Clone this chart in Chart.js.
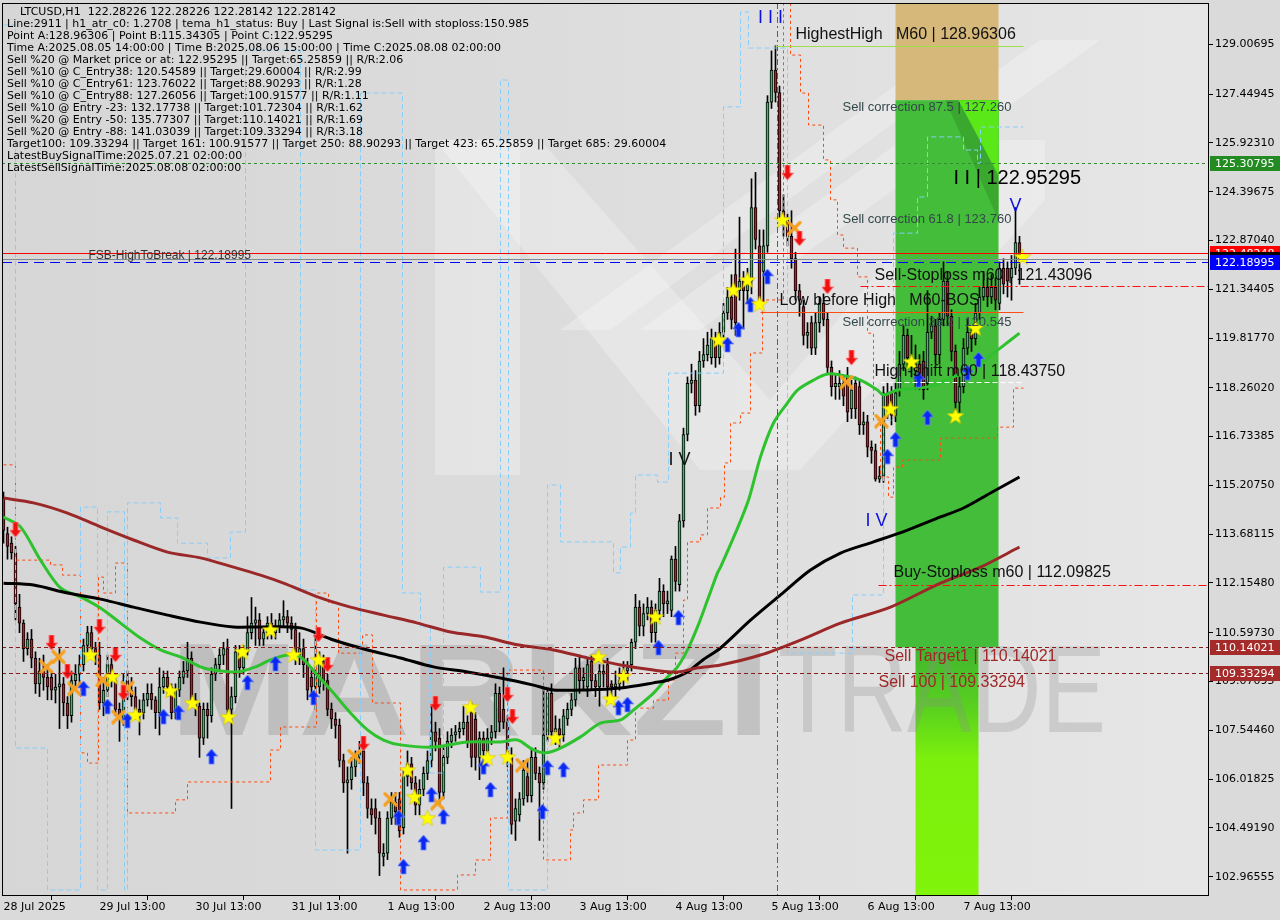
<!DOCTYPE html>
<html>
<head>
<meta charset="utf-8">
<script src="https://cdn.jsdelivr.net/npm/chart.js@4.4.1/dist/chart.umd.min.js"></script>
<style>
  html, body { margin: 0; padding: 0; background: #dadada; }
  #wrap { width: 1280px; height: 920px; }
</style>
</head>
<body>
<div id="wrap"><canvas id="chart" width="1280" height="920"></canvas></div>
<script>
// LTCUSD H1, one bar per hour from 28 Jul 2025 13:00 (index 0) to 8 Aug 2025 03:00 (index 254)
// each row: open, high, low, close
const candles = [
  [114.8,115.0,113.4,113.8],[113.7,113.9,112.9,113.3],[113.4,113.6,112.9,113.1],[113.1,113.3,111.0,111.5],
  [111.4,111.8,110.6,110.9],[110.9,111.0,109.7,110.1],[110.1,110.6,109.9,110.4],[110.4,110.7,109.5,109.8],
  [109.8,110.0,108.7,109.0],[109.0,109.8,108.6,109.4],[109.4,109.9,108.8,109.2],[109.2,109.6,108.5,108.9],
  [109.2,109.4,108.5,108.8],[108.8,109.3,108.4,108.9],[108.9,110.1,107.6,109.0],[109.0,109.2,108.0,108.4],
  [108.4,108.6,107.6,108.0],[108.0,109.4,107.8,109.1],[109.1,109.6,108.8,109.3],[109.3,109.9,109.0,109.6],
  [109.6,110.4,109.4,110.2],[110.2,110.8,110.0,110.6],[110.6,110.8,109.9,110.1],[110.1,110.3,109.6,109.9],
  [109.9,110.3,108.2,108.4],[108.4,109.2,108.0,108.8],[108.8,109.9,108.6,109.6],[109.6,109.8,108.9,109.1],
  [109.1,109.3,108.0,108.2],[108.2,108.4,107.2,107.9],[107.9,109.3,107.7,109.1],[109.1,109.4,108.5,108.8],
  [108.8,109.2,108.3,108.6],[108.6,108.9,107.9,108.2],[108.2,108.5,107.4,108.1],[108.1,108.7,107.9,108.5],
  [108.5,109.0,108.3,108.7],[108.7,109.0,108.2,108.5],[108.5,108.6,107.6,108.1],[108.1,109.5,107.4,108.9],
  [108.9,109.4,108.7,109.2],[109.2,109.4,108.6,108.9],[108.9,109.0,107.9,108.1],[108.1,109.0,107.9,108.8],
  [108.8,109.4,108.6,109.2],[109.2,109.7,109.0,109.4],[109.4,110.3,109.2,109.8],[109.8,110.0,108.3,108.5],
  [108.5,108.7,108.0,108.3],[108.3,108.4,106.7,107.3],[107.3,108.4,107.1,108.2],[108.2,108.4,107.3,108.0],
  [108.0,109.5,107.8,109.3],[109.3,109.8,109.1,109.6],[109.6,110.1,109.4,109.9],[109.9,110.3,109.6,110.1],
  [110.1,110.4,108.0,108.2],[108.2,108.9,105.1,108.6],[108.6,110.2,108.4,110.0],[110.0,110.2,109.2,109.5],
  [109.5,110.2,109.3,110.0],[110.0,111.1,109.9,110.6],[110.6,111.7,110.4,110.9],[110.9,111.4,110.2,111.0],
  [111.0,111.2,110.2,110.4],[110.4,110.8,110.2,110.6],[110.6,111.1,110.4,110.9],[110.9,111.2,110.4,110.6],
  [110.6,111.0,110.4,110.8],[110.8,111.2,110.6,111.0],[111.0,111.6,110.8,111.1],[111.1,111.3,110.6,110.9],
  [110.9,111.1,110.4,110.7],[110.7,110.9,109.6,109.9],[109.9,110.6,109.6,110.1],[110.1,110.4,109.2,109.6],
  [109.6,109.8,108.5,108.8],[109.2,109.5,108.6,108.9],[108.9,110.6,108.2,109.3],[108.9,110.0,108.7,109.7],
  [109.7,109.9,108.8,109.1],[109.1,109.3,108.0,108.2],[108.2,108.4,107.6,107.9],[107.9,108.1,107.3,107.7],
  [107.7,107.9,106.4,106.6],[106.6,106.8,105.6,105.9],[105.9,106.4,103.7,106.0],[106.0,106.7,105.7,106.4],
  [106.4,106.9,106.1,106.7],[106.7,107.2,106.5,106.9],[106.9,107.2,105.5,105.9],[105.9,106.1,104.8,105.1],
  [105.1,105.4,104.6,104.9],[105.1,105.4,104.3,104.8],[104.8,105.0,103.0,103.7],[103.6,104.0,103.3,103.7],
  [103.7,105.0,103.5,104.8],[104.8,105.6,104.6,105.3],[105.3,105.6,104.6,105.0],[105.4,105.6,104.2,104.4],
  [104.5,106.3,104.3,106.1],[106.1,106.9,105.8,106.5],[106.5,106.7,105.7,105.9],[105.9,106.1,104.9,105.2],
  [105.2,106.0,104.9,105.7],[105.7,106.4,105.5,106.2],[106.2,106.9,106.0,106.6],[106.6,108.3,106.4,107.5],
  [107.5,107.8,106.9,107.2],[107.3,107.6,105.2,105.6],[105.6,107.0,105.4,106.7],[106.7,107.5,106.5,107.2],
  [107.2,107.6,107.0,107.4],[107.4,107.7,107.2,107.5],[107.5,107.8,107.3,107.6],[107.6,108.3,107.4,107.8],
  [107.8,108.0,107.0,107.2],[108.1,108.4,106.4,106.7],[107.9,108.1,106.3,106.7],[106.7,107.5,106.0,107.3],
  [107.3,107.5,106.6,106.9],[106.9,107.6,106.6,107.3],[107.3,107.7,107.1,107.5],[107.5,109.0,107.3,108.7],
  [108.7,108.9,107.5,107.8],[108.2,109.5,107.6,107.8],[107.8,108.0,106.4,106.7],[106.7,107.0,104.3,104.6],
  [104.7,105.4,104.1,105.1],[104.9,105.6,104.7,105.4],[105.4,106.6,105.2,106.3],[106.1,106.6,105.3,105.5],
  [105.5,107.0,105.3,106.7],[106.7,107.0,106.0,106.2],[106.2,106.4,104.1,105.9],[105.9,108.9,105.7,107.4],
  [107.4,108.9,107.2,108.7],[108.7,109.0,107.3,107.5],[107.5,108.0,107.1,107.6],[107.6,107.9,107.0,107.4],
  [107.4,108.2,107.2,108.0],[107.9,108.4,107.7,108.2],[108.2,108.7,108.0,108.5],[108.5,109.8,108.3,109.5],
  [109.5,109.9,108.7,109.1],[109.1,109.5,108.8,109.2],[108.9,109.8,108.6,109.6],[109.7,109.9,108.8,109.1],
  [109.1,109.3,108.6,108.9],[108.9,109.6,108.3,109.4],[109.4,109.6,108.9,109.3],[109.6,109.8,108.4,108.9],
  [109.0,109.1,108.4,108.9],[108.9,109.4,108.6,109.0],[109.0,109.5,108.8,109.1],[109.1,109.7,108.9,109.4],
  [109.4,109.7,109.1,109.5],[109.6,110.4,109.4,110.3],[110.3,111.8,110.1,111.4],[111.4,111.6,110.5,110.8],
  [110.8,111.5,110.5,111.2],[111.2,111.7,111.0,111.4],[111.4,111.6,110.3,110.6],[110.6,111.5,110.3,111.3],
  [111.3,112.3,111.0,111.9],[111.9,112.1,111.1,111.5],[111.5,111.9,111.2,111.6],[111.3,113.0,111.1,112.9],
  [112.9,113.3,111.9,112.2],[112.1,114.3,111.9,114.1],[114.1,117.0,113.9,116.8],[116.8,118.6,116.6,118.4],
  [118.4,119.0,118.1,118.5],[118.5,118.8,117.4,117.7],[117.7,119.4,117.5,119.1],[119.1,119.8,118.9,119.3],
  [119.3,120.0,119.1,119.6],[119.2,120.1,119.0,119.8],[119.8,120.0,118.9,119.2],[119.2,120.3,119.0,120.0],
  [120.0,120.9,119.8,120.6],[120.6,121.4,120.4,121.1],[121.1,121.8,120.1,120.4],[121.8,122.6,119.9,120.3],
  [121.3,123.6,121.0,121.6],[121.6,121.9,120.1,121.3],[121.3,122.0,120.9,121.5],[121.6,124.8,121.2,123.9],
  [123.9,125.0,122.6,122.9],[122.7,123.2,120.8,121.0],[121.9,123.2,120.9,122.7],[122.7,127.4,122.5,127.2],
  [127.2,128.8,127.0,128.2],[128.2,128.96,127.2,127.5],[127.5,127.7,123.5,123.8],[123.8,124.3,123.0,123.5],
  [123.5,123.7,122.7,123.0],[123.0,123.8,122.0,122.3],[122.3,122.5,121.0,121.3],[121.3,121.5,120.5,121.0],
  [120.8,121.0,119.6,119.9],[119.9,120.3,119.5,120.0],[120.3,120.5,119.3,119.5],[119.5,120.6,119.3,120.3],
  [120.3,121.1,120.0,120.9],[120.9,121.2,120.2,120.4],[120.4,120.6,118.7,118.9],[118.9,119.1,118.0,118.3],
  [118.3,118.7,117.9,118.4],[118.3,118.8,117.9,118.4],[118.4,118.6,117.7,118.0],[118.6,118.9,117.2,117.5],
  [117.6,118.5,117.3,118.2],[118.4,118.6,117.3,117.6],[118.3,118.5,116.8,117.1],[117.1,117.5,116.8,117.2],
  [117.2,117.4,116.1,116.4],[116.4,116.6,115.9,116.3],[116.3,116.5,115.34,115.4],[115.4,115.8,115.3,115.5],
  [115.5,118.3,115.3,118.1],[118.1,118.4,117.3,117.6],[118.1,118.3,117.1,117.4],[117.4,118.4,117.2,118.1],
  [118.2,119.4,118.0,119.0],[119.0,120.2,118.8,119.9],[119.9,120.1,118.9,119.2],[119.2,119.9,118.6,119.0],
  [118.8,119.6,118.2,119.0],[119.0,119.3,118.2,118.6],[119.1,119.4,117.9,118.2],[118.4,121.3,118.2,120.0],
  [120.0,120.5,119.8,120.2],[120.2,120.4,119.0,119.3],[119.3,120.6,119.0,120.4],[120.4,122.2,120.2,121.6],
  [121.6,121.9,120.2,120.5],[120.5,120.7,119.1,119.4],[119.4,119.6,117.4,117.8],[117.8,118.6,117.5,118.3],
  [118.3,119.8,118.1,119.5],[119.5,120.4,119.3,120.0],[120.0,120.2,119.4,119.8],[119.8,120.9,119.6,120.6],
  [120.6,121.4,120.4,121.1],[121.1,121.9,121.0,121.4],[121.4,121.7,120.8,121.1],[121.1,121.8,120.9,121.4],
  [121.4,121.7,120.7,121.0],[120.9,122.2,120.7,122.0],[122.0,122.3,121.2,121.5],[122.0,122.2,121.1,121.6],
  [121.7,122.4,121.0,122.0],[122.0,123.9,121.8,122.8],[122.8,123.0,121.5,122.28142]
];

// moving averages, read at sample bars: [bar index, price]
const maFast = [[0,114.22],[4.25,113.91],[9.25,112.87],[14.25,112.0],[19.25,111.72],[24.25,111.37],[29.25,110.9],[34.25,110.43],[39.25,110.06],[44.25,109.84],[49.25,109.53],[52.5,109.43],[58.5,109.37],[63,109.53],[66.75,109.75],[71,109.9],[74.25,109.84],[78,109.34],[82.5,108.71],[86.75,108.09],[91,107.56],[95,107.24],[99.25,107.09],[107.5,107.02],[116,107.18],[124.25,107.18],[128.5,107.24],[132.5,106.93],[135.5,106.84],[139.25,106.99],[144.25,107.34],[149.25,107.77],[154.25,107.87],[157.5,108.18],[162.5,108.71],[166,109.21],[168.5,109.53],[171,110.06],[173.5,110.78],[176,111.62],[178.5,112.47],[179.25,112.65],[183,113.72],[186.25,114.75],[189.25,116.1],[192.5,117.16],[196,117.79],[198.5,118.19],[202.5,118.5],[206,118.69],[209.25,118.66],[214.25,118.5],[218.5,118.19],[220,118.04],[223.5,118.19],[231,118.29],[237.5,118.6],[243.5,118.97],[249.25,119.51],[254,119.97]];
const maMid = [[0,112.15],[7.5,112.09],[16,111.84],[24.25,111.65],[32.5,111.4],[41,111.15],[49.25,110.93],[57.5,110.78],[64.25,110.78],[74.25,110.75],[82.5,110.37],[91,110.06],[99.25,109.81],[107.5,109.53],[116,109.37],[124.25,109.18],[132.5,108.96],[137.5,108.81],[146,108.81],[154.25,108.87],[162.5,109.03],[166.25,109.12],[171,109.37],[174.75,109.74],[179.25,110.12],[186.75,110.99],[194.25,111.78],[201.75,112.56],[209.25,113.09],[217.5,113.44],[226,113.81],[234.25,114.22],[240,114.5],[246.75,114.97],[254,115.47]];
const maSlow = [[0,114.81],[7.5,114.66],[16,114.34],[24.25,113.91],[32.5,113.5],[41,113.12],[49.25,112.94],[57.5,112.65],[64.25,112.4],[70,112.15],[78.5,111.72],[86.75,111.4],[95,111.15],[103.5,110.9],[111.75,110.62],[120,110.47],[128.5,110.22],[137.5,110.06],[146,109.81],[154.25,109.59],[162.5,109.43],[168.5,109.37],[173.5,109.5],[179.25,109.59],[189.25,109.9],[199.25,110.37],[209.25,110.9],[221.75,111.4],[234.25,112.15],[244.25,112.65],[254,113.28]];

// trailing stop (orange) and channel (light blue) steps: [bar index, price]
const trailSteps = [[0,115.85],[3,112.87],[11.75,112.72],[14.75,112.4],[19.25,106.84],[21,106.52],[23.75,112.34],[25,111.84],[28,112.78],[31,104.96],[43,105.37],[46,105.93],[66.75,106.93],[69.25,107.65],[78.25,111.84],[81.25,111.53],[83.75,109.96],[89.75,110.53],[92.25,108.4],[99.25,102.55],[113.5,103.02],[118,103.49],[121.75,104.8],[126,109.43],[135,103.49],[141.75,104.43],[142.5,104.96],[145,105.37],[148.75,106.46],[156,107.24],[158,108.24],[162.5,108.49],[166.25,109.12],[168,109.96],[170,111.62],[171,113.44],[174.25,113.66],[176,114.5],[179.25,114.84],[180.25,115.91],[181.75,117.16],[184.25,117.47],[186.75,119.35],[189.75,121.01],[195,131.0],[196.75,128.67],[199.25,127.48],[201.25,126.48],[205,125.39],[206.75,124.14],[208.5,123.04],[210,122.63],[213.5,121.73],[216,119.97],[217.5,117.25],[219.25,115.47],[221.25,114.84],[222.5,115.78],[224.75,116.0],[234.25,116.69],[248.5,117.03],[252.5,118.25],[255,118.25]];
const channelSteps = [[0,129.61],[3,106.99],[11,102.55],[19.25,114.53],[23.5,102.55],[26,114.38],[30.25,102.55],[31,114.66],[39.25,114.19],[43.5,113.4],[51,112.94],[56.75,113.75],[60.5,128.83],[74.25,111.94],[78,103.8],[89.25,127.48],[99.75,111.84],[104.25,110.78],[106.75,106.21],[110,112.65],[119.25,111.87],[124.25,127.89],[126.25,102.55],[136,115.22],[139.25,113.44],[152.5,112.47],[154.25,113.28],[156.75,114.34],[158,115.53],[163.5,115.31],[166.25,118.72],[180,127.05],[184.25,130.02],[186.25,128.89],[196,109.96],[212.25,111.78],[220,117.25],[222.5,123.1],[228.5,124.23],[231,126.11],[240,125.7],[243.5,125.29],[244.25,126.42],[255,126.42]];

// signal marks: [bar index, price]
const starMarks = [[21.75,109.9],[27.25,109.22],[33,108.02],[41.75,108.78],[47.25,108.4],[56.25,107.96],[59.75,110.0],[66.75,110.68],[72.5,109.9],[78.75,109.75],[101,106.3],[102.75,105.46],[106,104.8],[116.75,108.27],[121,106.68],[126,106.71],[138,107.3],[148.75,109.84],[151.75,108.52],[155,109.24],[163,111.09],[178.75,119.76],[182.5,121.32],[186,121.63],[189,120.88],[194.75,123.51],[221.75,117.6],[227,119.07],[238,117.38],[243,120.13],[254.75,122.35]];
const buyArrows = [[20,108.84],[26,108.28],[31,107.84],[40,107.96],[43.75,108.09],[52,106.71],[61,109.03],[68,109.62],[77.5,108.56],[98.75,104.8],[100,103.27],[105,104.02],[107,105.52],[110,104.83],[120,106.39],[121.75,105.68],[134.75,104.99],[136,106.37],[140,106.3],[153.75,108.24],[156,108.34],[163.75,110.12],[168.75,111.06],[181,119.6],[183.75,120.07],[186.75,120.85],[191,121.73],[221,116.1],[223,116.63],[228.75,118.5],[231,117.32],[241,118.72],[243.75,119.13]];
const sellArrows = [[3,113.81],[12,110.28],[16,109.37],[24,110.78],[28,109.9],[30,108.71],[78.75,110.53],[81,109.59],[90,107.12],[108,108.37],[126,108.65],[127.25,107.96],[196,124.98],[199,122.92],[206,121.42],[212,119.19]];
const exitMarks = [[10.75,109.53],[13.75,109.84],[17.75,108.84],[24.75,109.12],[28.75,107.96],[31,108.87],[87.75,106.74],[96.75,105.39],[108.5,105.27],[129.75,106.46],[197.75,123.26],[210.75,118.44],[219.5,117.22]];

// axis ticks
const yTicks = [102.96555,104.4919,106.01825,107.5446,109.07095,110.5973,112.1548,113.68115,115.2075,116.73385,118.2602,119.8177,121.34405,122.8704,124.39675,125.9231,127.44945,129.00695];
const xTickIdx = [0,24,48,72,96,120,144,168,192,216,240];
const xTickLabels = ['28 Jul 2025','29 Jul 13:00','30 Jul 13:00','31 Jul 13:00','1 Aug 13:00','2 Aug 13:00','3 Aug 13:00','4 Aug 13:00','5 Aug 13:00','6 Aug 13:00','7 Aug 13:00'];

// levels
const pointA = 128.96306, pointB = 115.34305, pointC = 122.95295;
const fsbHigh = 122.18995, bidPrice = 122.28142, tsLine = 122.48248, fibGreen = 125.30795;
const sellStop = 121.43096, lowBeforeHigh = 120.63, highShift = 118.4375, buyStop = 112.09825;
const sellTarget1 = 110.14021, sell100 = 109.33294;
const corr875 = 127.26, corr618 = 123.76, corr382 = 120.545;
const zoneStart = 223, zoneEnd = 248.75, limeStart = 228, limeEnd = 243.75, pointAIdx = 193.25;

const infoLines = [
  'Line:2911 | h1_atr_c0: 1.2708 | tema_h1_status: Buy | Last Signal is:Sell with stoploss:150.985',
  'Point A:128.96306 | Point B:115.34305 | Point C:122.95295',
  'Time A:2025.08.05 14:00:00 | Time B:2025.08.06 15:00:00 | Time C:2025.08.08 02:00:00',
  'Sell %20 @ Market price or at: 122.95295 || Target:65.25859 || R/R:2.06',
  'Sell %10 @ C_Entry38: 120.54589 || Target:29.60004 || R/R:2.99',
  'Sell %10 @ C_Entry61: 123.76022 || Target:88.90293 || R/R:1.28',
  'Sell %10 @ C_Entry88: 127.26056 || Target:100.91577 || R/R:1.11',
  'Sell %10 @ Entry -23: 132.17738 || Target:101.72304 || R/R:1.62',
  'Sell %20 @ Entry -50: 135.77307 || Target:110.14021 || R/R:1.69',
  'Sell %20 @ Entry -88: 141.03039 || Target:109.33294 || R/R:3.18',
  'Target100: 109.33294 || Target 161: 100.91577 || Target 250: 88.90293 || Target 423: 65.25859 || Target 685: 29.60004',
  'LatestBuySignalTime:2025.07.21 02:00:00',
  'LatestSellSignalTime:2025.08.08 02:00:00'
];

const BULL = '#3cb86a', BEAR = '#b0202a';

// marker sprites
function sprite(w, h, draw) {
  const c = document.createElement('canvas');
  c.width = w; c.height = h;
  draw(c.getContext('2d'));
  return c;
}
const starImg = sprite(18, 18, g => {
  g.beginPath();
  for (let k = 0; k < 10; k++) {
    const r = k % 2 ? 3.6 : 8.6, a = -Math.PI / 2 + k * Math.PI / 5;
    g.lineTo(9 + r * Math.cos(a), 9.5 + r * Math.sin(a));
  }
  g.closePath();
  g.fillStyle = '#ffff00'; g.fill();
  g.strokeStyle = '#d8c000'; g.lineWidth = 0.6; g.stroke();
});
function arrowPath(g, up) {
  const p = [[6, 0], [12, 7], [8.5, 7], [8.5, 15], [3.5, 15], [3.5, 7], [0, 7]];
  g.beginPath();
  p.forEach(([a, b]) => g.lineTo(a, up ? b : 15 - b));
  g.closePath();
}
const upImg = sprite(12, 16, g => { arrowPath(g, true); g.fillStyle = '#0a28f0'; g.fill(); g.strokeStyle = '#6f8cff'; g.lineWidth = 0.8; g.stroke(); });
const downImg = sprite(12, 16, g => { arrowPath(g, false); g.fillStyle = '#f01010'; g.fill(); g.strokeStyle = '#ff8080'; g.lineWidth = 0.8; g.stroke(); });
const xImg = sprite(15, 15, g => {
  g.strokeStyle = '#f5a020'; g.lineWidth = 3.2; g.lineCap = 'round';
  g.beginPath(); g.moveTo(2, 2); g.lineTo(13, 13); g.moveTo(13, 2); g.lineTo(2, 13); g.stroke();
});

const toPts = arr => arr.map(([x, y]) => ({ x, y }));

function marks(arr, img) {
  return { type: 'line', data: toPts(arr), showLine: false, pointStyle: img, pointRadius: 6, order: 0 };
}

// drawing helpers
function hline(ctx, y, x0, x1, color, width, dash) {
  ctx.save();
  ctx.strokeStyle = color; ctx.lineWidth = width; ctx.setLineDash(dash || []);
  const yy = Math.round(y) + (width % 2 ? 0.5 : 0);
  ctx.beginPath(); ctx.moveTo(x0, yy); ctx.lineTo(x1, yy); ctx.stroke();
  ctx.restore();
}
function label(ctx, txt, x, y, font, color, base, align) {
  ctx.font = font; ctx.fillStyle = color;
  ctx.textBaseline = base || 'alphabetic'; ctx.textAlign = align || 'left';
  ctx.fillText(txt, x, y);
}

const scenePlugin = {
  id: 'scene',
  beforeDraw(chart) {
    const { ctx, chartArea: a, scales: { x, y } } = chart;
    ctx.save();
    ctx.fillStyle = '#dadada';
    ctx.fillRect(0, 0, chart.width, chart.height);
    const bg = ctx.createLinearGradient(a.left, 0, a.right, 0);
    bg.addColorStop(0, '#d6d6d6'); bg.addColorStop(0.45, '#dcdcdc'); bg.addColorStop(1, '#e6e6e6');
    ctx.fillStyle = bg;
    ctx.fillRect(a.left, a.top, a.width, a.height);

    // faint logo shapes behind the chart
    ctx.beginPath(); ctx.rect(a.left, a.top, a.width, a.height); ctx.clip();
    ctx.fillStyle = 'rgba(255,255,255,0.26)';
    const polys = [
      [[435, 140], [520, 140], [520, 475], [435, 475]],
      [[435, 140], [540, 140], [770, 400], [770, 470], [700, 470]],
      [[1045, 140], [1045, 200], [800, 470], [770, 470], [770, 400], [990, 140]],
      [[640, 330], [1040, 40], [1100, 40], [700, 330]],
      [[560, 330], [930, 60], [980, 60], [610, 330]]
    ];
    polys.forEach(p => { ctx.beginPath(); p.forEach(([px, py]) => ctx.lineTo(px, py)); ctx.closePath(); ctx.fill(); });

    // signal zone
    const zx0 = x.getPixelForValue(zoneStart), zx1 = x.getPixelForValue(zoneEnd);
    const yCorr = y.getPixelForValue(corr875), yT1 = y.getPixelForValue(sellTarget1);
    ctx.fillStyle = '#d6b87a';
    ctx.fillRect(zx0, a.top, zx1 - zx0, yCorr - a.top);
    ctx.fillStyle = '#44bd3a';
    ctx.fillRect(zx0, yCorr, zx1 - zx0, yT1 - yCorr);
    ctx.fillStyle = '#3aa82f';
    ctx.beginPath(); ctx.moveTo(x.getPixelForValue(235.5), yCorr); ctx.lineTo(zx1, yCorr); ctx.lineTo(zx1, y.getPixelForValue(123.5)); ctx.closePath(); ctx.fill();
    ctx.fillStyle = '#5ae818';
    ctx.beginPath(); ctx.moveTo(x.getPixelForValue(238.75), yCorr); ctx.lineTo(zx1, yCorr); ctx.lineTo(zx1, y.getPixelForValue(124.9)); ctx.closePath(); ctx.fill();
    const lx0 = x.getPixelForValue(limeStart), lx1 = x.getPixelForValue(limeEnd);
    const lg = ctx.createLinearGradient(0, yT1, 0, a.bottom);
    lg.addColorStop(0, '#40b530'); lg.addColorStop(0.25, '#5ad21e'); lg.addColorStop(0.45, '#7cf00c'); lg.addColorStop(1, '#80f40a');
    ctx.fillStyle = lg;
    ctx.fillRect(lx0, yT1, lx1 - lx0, a.bottom - yT1);

    // watermark text
    ctx.textBaseline = 'alphabetic'; ctx.textAlign = 'left';
    ctx.font = 'bold 132px "Liberation Sans"';
    let w = ctx.measureText('MARKZI').width;
    ctx.save(); ctx.translate(170, 735); ctx.scale(600 / w, 1);
    ctx.fillStyle = 'rgba(130,130,130,0.3)'; ctx.fillText('MARKZI', 0, 0); ctx.restore();
    ctx.font = '124px "Liberation Sans"';
    w = ctx.measureText('TRADE').width;
    ctx.save(); ctx.translate(778, 732); ctx.scale(328 / w, 1);
    ctx.fillStyle = 'rgba(140,140,140,0.28)'; ctx.fillText('TRADE', 0, 0); ctx.restore();
    ctx.restore();
  },
  afterDatasetsDraw(chart) {
    const { ctx, chartArea: a, scales: { x, y } } = chart;
    const py = v => y.getPixelForValue(v), px = v => x.getPixelForValue(v);
    ctx.save();
    ctx.beginPath(); ctx.rect(a.left, a.top, a.width, a.height); ctx.clip();

    // vertical line at point A
    ctx.strokeStyle = '#b02c8c'; ctx.lineWidth = 1; ctx.setLineDash([6, 3, 2, 3]);
    ctx.beginPath(); ctx.moveTo(Math.round(px(pointAIdx)) + 0.5, a.top); ctx.lineTo(Math.round(px(pointAIdx)) + 0.5, a.bottom); ctx.stroke();
    ctx.setLineDash([]);

    hline(ctx, py(fibGreen), a.left, a.right, '#2f8f2f', 1, [3, 3]);
    hline(ctx, py(tsLine), a.left, a.right, '#ff0000', 1);
    hline(ctx, py(bidPrice), a.left, a.right, '#808890', 1);
    hline(ctx, py(fsbHigh), a.left, a.right, '#0000ff', 1, [10, 6]);
    hline(ctx, py(sellTarget1), a.left, a.right, '#8c1c1c', 1, [4, 3]);
    hline(ctx, py(sell100), a.left, a.right, '#8c1c1c', 1, [4, 3]);
    hline(ctx, py(pointA), px(193), px(255), '#9ee04a', 1);
    hline(ctx, py(sellStop), px(214.25), a.right, '#ff1010', 1, [8, 3, 2, 3]);
    hline(ctx, py(lowBeforeHigh), px(189.25), px(255), '#ff4a10', 1);
    hline(ctx, py(highShift), px(219.25), px(255), '#ffffff', 1, [5, 3]);
    hline(ctx, py(buyStop), px(218.75), a.right, '#ff1010', 1, [8, 3, 2, 3]);

    // level captions
    const f16 = '16px "Liberation Sans"', f12 = '12px "Liberation Sans"', f13 = '13px "Liberation Sans"';
    label(ctx, 'FSB-HighToBreak | 122.18995', px(21.25), py(fsbHigh) - 1, f12, '#333', 'bottom');
    label(ctx, 'HighestHigh   M60 | 128.96306', px(198), py(pointA) - 3, f16, '#111', 'bottom');
    label(ctx, 'Sell correction 87.5 | 127.260', px(209.75), py(corr875) + 1, f13, '#34484a', 'top');
    label(ctx, 'Sell correction 61.8 | 123.760', px(209.75), py(corr618) + 1, f13, '#34484a', 'top');
    label(ctx, 'Sell correction 38.2 | 120.545', px(209.75), py(corr382) + 1, f13, '#34484a', 'top');
    label(ctx, 'Sell-Stoploss m60 | 121.43096', px(217.75), py(sellStop) - 3, f16, '#111', 'bottom');
    label(ctx, 'Low before High   M60-BOS', px(194), py(lowBeforeHigh) - 3, f16, '#111', 'bottom');
    label(ctx, 'High-shift m60 | 118.43750', px(217.75), py(highShift) - 3, f16, '#111', 'bottom');
    label(ctx, 'Buy-Stoploss m60 | 112.09825', px(222.5), py(buyStop) - 4, f16, '#111', 'bottom');
    label(ctx, 'Sell Target1 | 110.14021', px(220.25), py(sellTarget1) + 1, f16, '#a02828', 'top');
    label(ctx, 'Sell 100 | 109.33294', px(218.75), py(sell100) + 1, f16, '#a02828', 'top');
    label(ctx, 'I I | 122.95295', px(237.5), py(124.82), '20px "Liberation Sans"', '#000', 'middle');
    const f18 = '18px "Liberation Sans"';
    label(ctx, 'V', px(253), py(123.95), f18, '#1010e0', 'middle', 'center');
    label(ctx, 'I V', px(218.25), py(114.09), f18, '#1010e0', 'middle', 'center');
    label(ctx, 'I I I', px(191.75), py(129.83), f18, '#1010e0', 'middle', 'center');
    label(ctx, 'I V', px(169), py(116.0), f18, '#111', 'middle', 'center');
    ctx.restore();
  },
  afterDraw(chart) {
    const { ctx, chartArea: a, scales: { y } } = chart;
    ctx.save();
    ctx.strokeStyle = '#000'; ctx.lineWidth = 1;
    ctx.strokeRect(a.left + 0.5, a.top + 0.5, a.width - 1, a.height - 1);

    // price boxes on the right axis
    const boxes = [
      [fibGreen, '#228b22', '125.30795'],
      [tsLine, '#ff0000', '122.48248'],
      [bidPrice, '#000000', '122.28142'],
      [fsbHigh, '#0000ff', '122.18995'],
      [sellTarget1, '#a52a2a', '110.14021'],
      [sell100, '#a52a2a', '109.33294']
    ];
    ctx.font = '11px "DejaVu Sans"'; ctx.textBaseline = 'middle'; ctx.textAlign = 'left';
    boxes.forEach(([v, col, t]) => {
      const yy = Math.round(y.getPixelForValue(v));
      ctx.fillStyle = col; ctx.fillRect(a.right + 1, yy - 7, 70, 15);
      ctx.fillStyle = '#fff'; ctx.fillText(t, a.right + 6, yy + 1);
    });

    // info block
    ctx.fillStyle = '#000'; ctx.textBaseline = 'middle';
    ctx.font = '11px "DejaVu Sans"';
    ctx.fillText('LTCUSD,H1  122.28226 122.28226 122.28142 122.28142', 20, 12);
    infoLines.forEach((t, k) => ctx.fillText(t, 7, 24.5 + k * 11.95));
    ctx.restore();
  }
};

const stepLine = (arr, color, dash) => ({
  type: 'line', data: toPts(arr), borderColor: color, borderWidth: 1, borderDash: dash,
  stepped: 'before', pointRadius: 0, fill: false, order: 2
});
const maLine = (arr, color) => ({
  type: 'line', data: toPts(arr), borderColor: color, borderWidth: 3, pointRadius: 0,
  tension: 0.3, fill: false, order: 1
});
const noPad = s => { s.paddingLeft = 0; s.paddingRight = 0; s.paddingTop = 0; s.paddingBottom = 0; };

new Chart(document.getElementById('chart'), {
  type: 'bar',
  data: {
    datasets: [
      {
        label: 'wicks', data: candles.map((c, i) => ({ x: i, y: [c[2], c[1]] })),
        backgroundColor: '#000', barThickness: 1, grouped: false, order: 6
      },
      {
        label: 'bodies', data: candles.map((c, i) => ({ x: i, y: [c[0], c[3]] })),
        backgroundColor: candles.map(c => c[3] >= c[0] ? BULL : BEAR),
        borderColor: '#000', borderWidth: 1, borderSkipped: false,
        barThickness: 3, minBarLength: 1, grouped: false, order: 5
      },
      stepLine(channelSteps, '#87cefa', [5, 3]),
      stepLine(trailSteps, '#ff4a10', [3, 3]),
      maLine(maSlow, '#9b2828'),
      maLine(maMid, '#000000'),
      maLine(maFast, '#2fc22f'),
      marks(starMarks, starImg),
      marks(buyArrows, upImg),
      marks(sellArrows, downImg),
      marks(exitMarks, xImg)
    ]
  },
  options: {
    responsive: false, animation: false, devicePixelRatio: 1,
    layout: { autoPadding: false, padding: { top: 3, left: 2, right: 0, bottom: 0 } },
    plugins: { legend: { display: false }, tooltip: { enabled: false } },
    scales: {
      x: {
        type: 'linear', min: -0.375, max: 301.375, offset: false,
        grid: { drawOnChartArea: false, drawTicks: true, tickLength: 4, color: '#000' },
        border: { display: false },
        ticks: {
          autoSkip: false, maxRotation: 0, align: 'start', padding: 1, color: '#000',
          font: { family: 'DejaVu Sans', size: 11 },
          callback: v => xTickLabels[xTickIdx.indexOf(v)]
        },
        afterBuildTicks: s => { s.ticks = xTickIdx.map(v => ({ value: v })); },
        afterFit: s => { s.height = 24; noPad(s); }
      },
      y: {
        type: 'linear', position: 'right', min: 102.362, max: 130.299,
        grid: { drawOnChartArea: false, drawTicks: true, tickLength: 4, color: '#000' },
        border: { display: false },
        ticks: { padding: 2, color: '#000', font: { family: 'DejaVu Sans', size: 11 }, callback: v => v.toFixed(5) },
        afterBuildTicks: s => { s.ticks = yTicks.map(v => ({ value: v })); },
        afterFit: s => { s.width = 71; noPad(s); }
      }
    }
  },
  plugins: [scenePlugin]
});
</script>
</body>
</html>
